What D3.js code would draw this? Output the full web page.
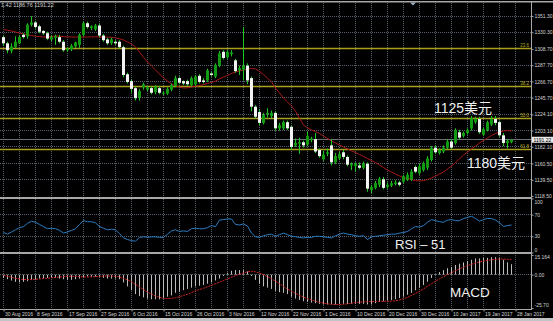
<!DOCTYPE html>
<html>
<head>
<meta charset="utf-8">
<script src="https://cdn.jsdelivr.net/npm/d3@7"></script>
<style>
  html, body { margin: 0; padding: 0; background: #000; }
  svg { display: block; }
  .ax text { fill: #d4d4d4; font-family: "Liberation Sans", sans-serif; font-size: 5px; }
  .ax line { stroke: #a0a0a0; }
  .note { fill: #f0f0f0; font-family: "Liberation Sans", "Noto Sans CJK SC", sans-serif; }
</style>
</head>
<body>
<svg id="chart" width="553" height="321"></svg>
<script>
const dateLabels = ['30 Aug 2016', '8 Sep 2016', '17 Sep 2016', '27 Sep 2016', '6 Oct 2016', '15 Oct 2016',
  '26 Oct 2016', '3 Nov 2016', '12 Nov 2016', '22 Nov 2016', '1 Dec 2016', '10 Dec 2016', '20 Dec 2016',
  '30 Dec 2016', '10 Jan 2017', '19 Jan 2017', '28 Jan 2017'];

const priceTicks = [1351.3, 1330.3, 1308.7, 1287.7, 1266.7, 1245.7, 1224.1, 1203.1, 1182.1, 1160.5, 1139.5, 1118.5];
const rsiTicks = [100, 70, 30, 0];
const macdTicks = [15.164, 0, -25.7];
const macdTickText = ['15.164', '0.00', '-25.70'];

const fibNames = ['23.6', '38.2', '50.0', '61.8'];
const fibPrices = [1309.5, 1259.5, 1219.0, 1178.0];

const lastPrice = 1191.22;
const header = '1.42 1186.76 1191.22';

const opens = [1324, 1316, 1306, 1311, 1316, 1327, 1325, 1340, 1343, 1338,
  1332, 1329, 1321, 1323, 1324, 1318, 1307, 1308, 1312, 1314,
  1327, 1342, 1336, 1334, 1339, 1326, 1321, 1316, 1318, 1318,
  1311, 1276, 1267, 1258, 1246, 1259, 1256, 1258, 1253, 1258,
  1251, 1251, 1256, 1261, 1271, 1267, 1267, 1262, 1263, 1274,
  1268, 1268, 1277, 1273, 1287, 1305, 1298, 1302, 1294, 1281,
  1282, 1287, 1271, 1234, 1227, 1213, 1224, 1222, 1226, 1206,
  1206, 1214, 1208, 1184, 1186, 1188, 1185, 1191, 1192, 1178,
  1166, 1173, 1184, 1162, 1167, 1175, 1169, 1158, 1157, 1158,
  1155, 1160, 1126, 1129, 1133, 1140, 1130, 1132, 1134, 1136,
  1137, 1140, 1140, 1156, 1148, 1152, 1155, 1165, 1181, 1174,
  1176, 1181, 1189, 1187, 1201, 1196, 1200, 1206, 1214, 1218,
  1198, 1204, 1211, 1218, 1214, 1197, 1187, 1188];

const highs = [1326, 1318, 1316, 1325, 1326, 1329, 1342, 1351, 1345, 1340,
  1333, 1331, 1326, 1327, 1327, 1320, 1311, 1315, 1318, 1329,
  1344, 1344, 1339, 1341, 1341, 1328, 1323, 1323, 1320, 1320,
  1313, 1278, 1269, 1260, 1257, 1265, 1261, 1260, 1262, 1261,
  1254, 1259, 1264, 1274, 1273, 1268, 1269, 1273, 1275, 1276,
  1271, 1283, 1279, 1290, 1306, 1307, 1307, 1307, 1296, 1287,
  1337, 1290, 1273, 1236, 1230, 1226, 1232, 1229, 1228, 1213,
  1216, 1216, 1210, 1193, 1194, 1190, 1202, 1195, 1200, 1180,
  1177, 1180, 1192, 1174, 1176, 1178, 1171, 1162, 1162, 1162,
  1163, 1162, 1133, 1138, 1143, 1143, 1136, 1138, 1139, 1138,
  1146, 1149, 1153, 1158, 1160, 1163, 1170, 1183, 1184, 1180,
  1184, 1192, 1192, 1206, 1204, 1202, 1206, 1222, 1221, 1221,
  1207, 1216, 1222, 1222, 1216, 1200, 1192, 1191.42];

const lows = [1313, 1303, 1303, 1310, 1315, 1322, 1322, 1338, 1335, 1329,
  1327, 1320, 1319, 1314, 1316, 1305, 1305, 1306, 1310, 1310,
  1325, 1335, 1333, 1332, 1324, 1318, 1314, 1314, 1314, 1309,
  1272, 1264, 1252, 1242, 1242, 1256, 1254, 1250, 1250, 1250,
  1249, 1249, 1254, 1259, 1263, 1262, 1261, 1260, 1261, 1264,
  1264, 1266, 1273, 1271, 1285, 1295, 1296, 1299, 1278, 1275,
  1268, 1263, 1228, 1219, 1210, 1211, 1220, 1219, 1203, 1203,
  1204, 1204, 1178, 1182, 1173, 1181, 1183, 1188, 1174, 1168,
  1164, 1170, 1158, 1160, 1165, 1166, 1157, 1152, 1150, 1153,
  1153, 1124, 1122, 1127, 1130, 1127, 1128, 1130, 1132, 1131,
  1135, 1138, 1138, 1148, 1146, 1150, 1152, 1163, 1173, 1172,
  1174, 1179, 1179, 1185, 1192, 1194, 1198, 1203, 1212, 1199,
  1196, 1202, 1209, 1210, 1195, 1183, 1180, 1186.76];

const closes = [1316, 1307, 1312, 1318, 1324, 1324, 1340, 1343, 1337, 1331,
  1329, 1322, 1324, 1325, 1318, 1307, 1309, 1313, 1317, 1327,
  1342, 1337, 1338, 1339, 1326, 1320, 1316, 1321, 1316, 1311,
  1275, 1266, 1257, 1245, 1254, 1263, 1259, 1252, 1260, 1252,
  1252, 1257, 1262, 1271, 1265, 1264, 1263, 1271, 1273, 1266,
  1266, 1281, 1275, 1288, 1303, 1297, 1305, 1304, 1280, 1284,
  1287, 1268, 1234, 1221, 1213, 1223, 1226, 1226, 1206, 1210,
  1214, 1206, 1182, 1187, 1188, 1184, 1196, 1193, 1176, 1170,
  1172, 1175, 1162, 1170, 1173, 1169, 1159, 1160, 1160, 1155,
  1160, 1128, 1130, 1135, 1141, 1129, 1133, 1135, 1136, 1133,
  1144, 1146, 1150, 1150, 1157, 1161, 1167, 1181, 1175, 1178,
  1181, 1189, 1181, 1204, 1194, 1200, 1204, 1219, 1218, 1201,
  1205, 1214, 1218, 1213, 1197, 1187, 1190, 1191.22];

const movingAvg = [1333.8, 1332.8, 1331.9, 1330.6, 1329.3, 1328.0, 1327.0, 1326.1, 1325.2, 1324.7,
  1324.1, 1324.4, 1324.8, 1325.2, 1325.2, 1324.8, 1324.1, 1324.1, 1324.1, 1324.1,
  1324.1, 1324.1, 1324.4, 1324.4, 1324.1, 1324.1, 1323.9, 1323.7, 1323.1, 1321.8,
  1320.3, 1317.7, 1315.1, 1311.2, 1304.7, 1297.6, 1291.8, 1286.6, 1281.5, 1276.3,
  1271.1, 1267.2, 1263.4, 1261.0, 1259.5, 1258.2, 1258.4, 1259.5, 1260.4, 1261.4,
  1262.7, 1264.0, 1265.3, 1267.2, 1269.8, 1272.4, 1274.3, 1276.9, 1278.9, 1280.2,
  1281.5, 1282.8, 1283.4, 1282.8, 1279.6, 1275.6, 1271.1, 1265.9, 1258.2, 1251.7,
  1245.2, 1240.1, 1234.9, 1228.4, 1219.4, 1210.3, 1206.5, 1203.9, 1201.9, 1199.3,
  1196.1, 1192.9, 1189.6, 1187.1, 1184.5, 1181.9, 1179.3, 1176.7, 1174.8, 1172.2,
  1169.6, 1167.0, 1164.4, 1161.8, 1158.6, 1155.4, 1152.1, 1149.5, 1146.9, 1144.4,
  1142.4, 1141.1, 1139.8, 1138.5, 1137.9, 1138.5, 1139.8, 1141.8, 1144.4, 1146.9,
  1149.5, 1153.4, 1157.3, 1161.8, 1166.4, 1171.5, 1175.4, 1179.3, 1183.2, 1187.1,
  1190.3, 1193.5, 1196.8, 1199.3, 1201.3, 1202.6, 1203.2, 1202.6];

const rsi = [37, 34, 38, 42, 46, 48, 54, 58, 56, 52,
  48, 44, 45, 44, 41, 36, 38, 41, 44, 52,
  59, 57, 57, 55, 48, 45, 42, 43, 42, 35,
  27, 24, 22, 21, 28, 29, 28, 29, 29, 28,
  28, 34, 40, 42, 39, 40, 39, 44, 45, 44,
  44, 46, 50, 48, 60, 61, 62, 62, 52, 51,
  53, 49, 36, 29, 28, 31, 33, 34, 30, 33,
  36, 33, 30, 29, 28, 27, 28, 28, 30, 30,
  29, 28, 27, 31, 34, 36, 34, 33, 31, 30,
  31, 24, 29, 30, 31, 32, 33, 34, 34, 36,
  37, 39, 44, 48, 47, 50, 56, 61, 59, 57,
  56, 60, 61, 59, 59, 63, 65, 67, 63, 58,
  61, 63, 63, 60, 55, 48, 50, 51];

const macdHist = [-2.5, -3.5, -4.5, -5.5, -6, -5.5, -5, -4, -3.5, -3,
  -3, -2.5, -2.5, -2.5, -3, -3.5, -4, -4, -3.5, -3,
  -2, -1.5, -1.5, -1.5, -2, -2.5, -3, -3, -3, -3.5,
  -6, -9, -12, -15, -16.5, -17.5, -18.5, -19, -19, -19,
  -18.5, -17, -16, -14, -13, -12, -11, -10, -9, -8.5,
  -8, -7, -6, -4.5, -3, -1, 1.5, 3, 3.5, 3.5,
  3.5, 2.5, -1, -4, -7, -9, -10, -11, -12.5, -13.5,
  -14, -15, -17, -18.5, -19.5, -20.5, -21, -21.5, -22, -22.5,
  -23, -23, -23, -23, -22.5, -22.5, -22.5, -22.5, -22.5, -22.5,
  -22.5, -23, -23, -22, -21, -20.5, -20, -19.5, -19, -18,
  -17, -15.5, -14, -12, -10, -8, -5.5, -2.5, 0.5, 2,
  3.5, 5, 6, 7.5, 8.5, 9.5, 10.5, 11.5, 12.5, 12.5,
  13, 13, 13.5, 13.5, 13, 11.5, 9.5, 8];

const macdSignal = [-0.5, -1.2, -2, -2.8, -3.3, -3.7, -3.8, -3.8, -3.6, -3.3,
  -3, -2.7, -2.4, -2.1, -1.8, -1.5, -1.3, -1.2, -1.3, -1.5,
  -1.7, -1.8, -1.7, -1.5, -1.3, -1.1, -1, -1, -1.2, -1.8,
  -2.8, -4, -5.5, -7.5, -9.5, -11.5, -13.5, -15, -16.5, -17.5,
  -18.3, -18.5, -18.3, -17.8, -17, -16, -15, -13.8, -12.5, -11.5,
  -10.5, -9.3, -8.2, -7, -5.8, -4.5, -3.2, -2, -0.8, 0.3,
  1.3, 2.2, 2.6, 2.2, 1.3, 0, -1.5, -3.2, -5, -7,
  -9, -11, -12.8, -14.5, -16, -17.3, -18.5, -19.5, -20.5, -21.3,
  -22, -22.5, -22.8, -23, -23, -22.8, -22.5, -22, -21.5, -21.2,
  -21, -20.8, -20.7, -20.6, -20.5, -20.5, -20.5, -20.4, -20.2, -19.5,
  -18.5, -17.5, -16, -14.5, -12.8, -11, -9, -7, -5, -3.3,
  -1.5, 0, 1.5, 3, 4.5, 5.8, 7, 8, 9, 9.8,
  10.5, 11, 11.5, 11.8, 12, 12, 11.8, 11.5];

const svg = d3.select('#chart');
const axisX = 531.5;

const x = d3.scaleLinear().domain([0, 128]).range([3.5, 515.5]);
const yPrice = d3.scaleLinear().domain([1118.5, 1351.3]).range([196, 16]);
const yRsi = d3.scaleLinear().domain([0, 100]).range([252.5, 198.5]);
const yMacd = d3.scaleLinear().domain([-25.7, 15.164]).range([308, 255]);
const snap = (v) => Math.round(v - 0.5) + 0.5;

svg.append('rect').attr('width', 553).attr('height', 321).attr('fill', '#000');

// dotted grid
const grid = svg.append('g')
  .attr('stroke', '#56616d')
  .attr('stroke-dasharray', '1,1')
  .attr('fill', 'none');

grid.selectAll('line.v')
  .data(d3.range(0, 129, 4))
  .join('line')
  .attr('class', 'v')
  .attr('x1', (d) => x(d))
  .attr('x2', (d) => x(d))
  .attr('y1', 3)
  .attr('y2', 309);

const hLines = [
  ...priceTicks.slice(0, -1).map((p) => yPrice(p)),
  ...[70, 30].map((v) => yRsi(v)),
  yMacd(0),
];

grid.selectAll('line.h')
  .data(hLines)
  .join('line')
  .attr('class', 'h')
  .attr('x1', 0)
  .attr('x2', axisX)
  .attr('y1', (d) => snap(d))
  .attr('y2', (d) => snap(d));

// fibonacci levels
const fib = svg.append('g');
fib.selectAll('line')
  .data(fibPrices)
  .join('line')
  .attr('x1', 0)
  .attr('x2', axisX)
  .attr('y1', (d) => snap(yPrice(d)))
  .attr('y2', (d) => snap(yPrice(d)))
  .attr('stroke', '#a99f1c')
  .attr('stroke-width', 1.3);

fib.selectAll('text')
  .data(fibPrices)
  .join('text')
  .attr('x', 529)
  .attr('y', (d) => yPrice(d) - 1.5)
  .attr('text-anchor', 'end')
  .attr('fill', '#b8ac22')
  .attr('font-family', 'Liberation Sans, sans-serif')
  .attr('font-size', 4.5)
  .text((d, i) => fibNames[i]);

// current price line
svg.append('line')
  .attr('x1', 0)
  .attr('x2', axisX)
  .attr('y1', snap(yPrice(lastPrice)))
  .attr('y2', snap(yPrice(lastPrice)))
  .attr('stroke', '#6b7178')
  .attr('stroke-width', 1.2);

// moving average
svg.append('path')
  .datum(movingAvg)
  .attr('fill', 'none')
  .attr('stroke', '#a81818')
  .attr('stroke-width', 1)
  .attr('d', d3.line().x((d, i) => x(i)).y((d) => yPrice(d)));

// candles
const bars = d3.range(opens.length).map((i) => ({
  i, o: opens[i], h: highs[i], l: lows[i], c: closes[i],
}));

const candles = svg.append('g').selectAll('g').data(bars).join('g');

candles.append('line')
  .attr('x1', (d) => x(d.i))
  .attr('x2', (d) => x(d.i))
  .attr('y1', (d) => yPrice(d.h))
  .attr('y2', (d) => yPrice(d.l))
  .attr('stroke', '#1ec81e')
  .attr('stroke-width', 1);

candles.append('rect')
  .attr('x', (d) => x(d.i) - 1.5)
  .attr('width', 3)
  .attr('y', (d) => yPrice(Math.max(d.o, d.c)))
  .attr('height', (d) => Math.max(1, yPrice(Math.min(d.o, d.c)) - yPrice(Math.max(d.o, d.c))))
  .attr('fill', (d) => (d.c >= d.o ? '#139a13' : '#f4f4f4'));

// RSI
svg.append('path')
  .datum(rsi)
  .attr('fill', 'none')
  .attr('stroke', '#2b7cc2')
  .attr('stroke-width', 1)
  .attr('d', d3.line().x((d, i) => x(i)).y((d) => yRsi(d)));

// MACD
svg.append('g')
  .selectAll('line')
  .data(macdHist)
  .join('line')
  .attr('x1', (d, i) => x(i))
  .attr('x2', (d, i) => x(i))
  .attr('y1', yMacd(0))
  .attr('y2', (d) => yMacd(d))
  .attr('stroke', '#bdbdbd')
  .attr('stroke-width', 1);

svg.append('path')
  .datum(macdSignal)
  .attr('fill', 'none')
  .attr('stroke', '#d42222')
  .attr('stroke-width', 1)
  .attr('stroke-dasharray', '2,1')
  .attr('d', d3.line().x((d, i) => x(i)).y((d) => yMacd(d)));

// frame and panel separators
const frame = svg.append('g').attr('fill', '#a8a8a8');
frame.append('rect').attr('x', 0).attr('y', 1).attr('width', 553).attr('height', 1.5);
frame.append('rect').attr('x', 0).attr('y', 197).attr('width', 532).attr('height', 2);
frame.append('rect').attr('x', 0).attr('y', 252).attr('width', 532).attr('height', 2);
frame.append('rect').attr('x', 0).attr('y', 309).attr('width', 532).attr('height', 1);
frame.append('rect').attr('x', 531).attr('y', 1).attr('width', 1).attr('height', 309);
svg.append('rect').attr('x', 0).attr('y', 318).attr('width', 553).attr('height', 3).attr('fill', '#c4c4c4');

svg.append('path')
  .attr('d', 'M410,2.5 L416,2.5 L413,5.5 Z')
  .attr('fill', '#9fb0c2');

// axes
const priceAxis = svg.append('g')
  .attr('class', 'ax')
  .attr('transform', `translate(${axisX},0)`)
  .call(d3.axisRight(yPrice).tickValues(priceTicks).tickSize(2).tickPadding(1).tickFormat(d3.format('.2f')));
priceAxis.select('.domain').remove();

const rsiAxis = svg.append('g')
  .attr('class', 'ax')
  .attr('transform', `translate(${axisX},0)`)
  .call(d3.axisRight(yRsi).tickValues(rsiTicks).tickSize(2).tickPadding(1));
rsiAxis.select('.domain').remove();
rsiAxis.selectAll('text').attr('dy', (d) => (d === 100 ? '0.9em' : d === 0 ? '-0.3em' : '0.32em'));

const macdAxis = svg.append('g')
  .attr('class', 'ax')
  .attr('transform', `translate(${axisX},0)`)
  .call(d3.axisRight(yMacd).tickValues(macdTicks).tickSize(2).tickPadding(1)
    .tickFormat((d, i) => macdTickText[i]));
macdAxis.select('.domain').remove();
macdAxis.selectAll('text').attr('dy', (d, i) => (i === 0 ? '0.75em' : i === 2 ? '-0.25em' : '0.32em'));

const timeAxis = svg.append('g')
  .attr('class', 'ax')
  .attr('transform', 'translate(0,309.5)')
  .call(d3.axisBottom(x).tickValues(d3.range(0, 129, 8)).tickSize(2).tickPadding(0.5)
    .tickFormat((d, i) => dateLabels[i]));
timeAxis.select('.domain').remove();
timeAxis.selectAll('text')
  .attr('text-anchor', 'start')
  .attr('dx', 1);

// last price tag
const tagY = yPrice(lastPrice);
svg.append('rect')
  .attr('x', 532)
  .attr('y', tagY - 3)
  .attr('width', 21)
  .attr('height', 6)
  .attr('fill', '#e8e8e8');
svg.append('text')
  .attr('x', 533.5)
  .attr('y', tagY + 1.8)
  .attr('fill', '#000')
  .attr('font-family', 'Liberation Sans, sans-serif')
  .attr('font-size', 5)
  .text(d3.format('.2f')(lastPrice));

// header
svg.append('text')
  .attr('x', 1)
  .attr('y', 7)
  .attr('fill', '#d0d0d0')
  .attr('font-family', 'Liberation Sans, sans-serif')
  .attr('font-size', 5.5)
  .text(header);

// annotations
svg.append('text').attr('class', 'note').attr('x', 434).attr('y', 113).attr('font-size', 14).text('1125美元');
svg.append('text').attr('class', 'note').attr('x', 467).attr('y', 168).attr('font-size', 14).text('1180美元');
svg.append('text').attr('class', 'note').attr('x', 395).attr('y', 249).attr('font-size', 13).text('RSI – 51');
svg.append('text').attr('class', 'note').attr('x', 450).attr('y', 297).attr('font-size', 13.5).text('MACD');
</script>
</body>
</html>
